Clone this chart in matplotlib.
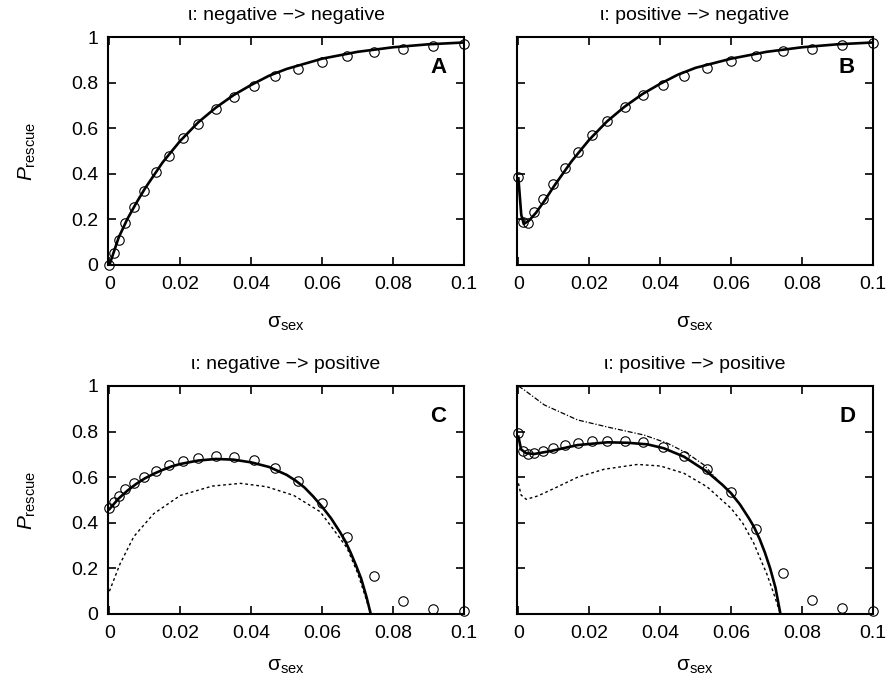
import matplotlib
matplotlib.use("Agg")
import matplotlib.pyplot as plt

# ---- data ----
# circles (simulation)
x_sim = [0, 0.0012, 0.0026, 0.0045, 0.007, 0.0097, 0.013, 0.0167, 0.0207, 0.025, 0.03,
         0.035, 0.0407, 0.0468, 0.0531, 0.06, 0.067, 0.0746, 0.0827, 0.0912, 0.1]
sim_A = [0.0, 0.051, 0.11, 0.183, 0.253, 0.326, 0.407, 0.48, 0.556, 0.618, 0.684,
         0.735, 0.786, 0.827, 0.859, 0.89, 0.915, 0.933, 0.949, 0.962, 0.971]
sim_B = [0.385, 0.19, 0.186, 0.231, 0.29, 0.354, 0.425, 0.495, 0.571, 0.63, 0.693,
         0.744, 0.79, 0.827, 0.864, 0.893, 0.918, 0.937, 0.949, 0.963, 0.974]
sim_C = [0.466, 0.493, 0.518, 0.547, 0.573, 0.602, 0.629, 0.654, 0.673, 0.683, 0.693,
         0.687, 0.675, 0.639, 0.583, 0.488, 0.339, 0.168, 0.058, 0.022, 0.013]
sim_D = [0.795, 0.716, 0.702, 0.705, 0.716, 0.727, 0.741, 0.749, 0.759, 0.76, 0.759,
         0.756, 0.731, 0.693, 0.635, 0.534, 0.371, 0.181, 0.061, 0.025, 0.015]

# model curves
xA = [0, 0.0026, 0.005, 0.0075, 0.01, 0.015, 0.02, 0.025, 0.03, 0.035, 0.04, 0.045,
      0.05, 0.06, 0.07, 0.08, 0.09, 0.1]
lineA = [0.0, 0.12, 0.2, 0.27, 0.335, 0.45, 0.545, 0.625, 0.69, 0.745, 0.79, 0.83,
         0.86, 0.905, 0.935, 0.955, 0.968, 0.976]
xB = [0, 0.0008, 0.0015, 0.003, 0.005, 0.0075, 0.01, 0.015, 0.02, 0.025, 0.03, 0.035,
      0.04, 0.045, 0.05, 0.06, 0.07, 0.08, 0.09, 0.1]
lineB = [0.38, 0.22, 0.18, 0.195, 0.23, 0.285, 0.345, 0.455, 0.55, 0.63, 0.695, 0.75,
         0.795, 0.835, 0.865, 0.905, 0.935, 0.955, 0.968, 0.976]
xC = [0, 0.0025, 0.005, 0.0075, 0.01, 0.0125, 0.015, 0.0175, 0.02, 0.025, 0.03, 0.035,
      0.04, 0.045, 0.05, 0.0525, 0.055, 0.0575, 0.06, 0.0625, 0.065, 0.0665, 0.068,
      0.0695, 0.071, 0.0725, 0.0737]
lineC = [0.46, 0.505, 0.54, 0.57, 0.595, 0.615, 0.632, 0.647, 0.658, 0.673, 0.68, 0.677,
         0.665, 0.645, 0.61, 0.585, 0.555, 0.515, 0.47, 0.42, 0.36, 0.32, 0.27,
         0.215, 0.155, 0.075, 0.0]
xCd = [0, 0.003, 0.0069, 0.0125, 0.02, 0.029, 0.037, 0.0444, 0.052, 0.0594, 0.063,
       0.067, 0.070, 0.072, 0.0737]
dotC = [0.1, 0.22, 0.34, 0.44, 0.52, 0.561, 0.573, 0.558, 0.52, 0.449, 0.375,
        0.29, 0.18, 0.085, 0.0]
xD = [0, 0.00075, 0.0022, 0.0045, 0.0092, 0.0167, 0.0251, 0.0308, 0.0364, 0.041,
      0.0467, 0.0532, 0.055, 0.0575, 0.06, 0.0625, 0.065, 0.0664, 0.068, 0.0695,
      0.071, 0.0725, 0.0739]
lineD = [0.778, 0.722, 0.705, 0.702, 0.715, 0.741, 0.753, 0.751, 0.744, 0.727,
         0.69, 0.624, 0.6, 0.567, 0.529, 0.48, 0.42, 0.383, 0.33, 0.27,
         0.2, 0.115, 0.0]
xDdd = [0, 0.0017, 0.0073, 0.0167, 0.026, 0.0354, 0.042, 0.0476, 0.0523, 0.056]
dashdotD = [1.0, 0.982, 0.917, 0.851, 0.817, 0.785, 0.749, 0.705, 0.654, 0.59]
xDd = [0, 0.00075, 0.0022, 0.0055, 0.0101, 0.0167, 0.0242, 0.0336, 0.0401, 0.0467,
       0.0532, 0.06, 0.0632, 0.0664, 0.068, 0.07, 0.072, 0.0739]
dotD = [0.573, 0.522, 0.503, 0.518, 0.551, 0.6, 0.635, 0.656, 0.649, 0.617,
        0.558, 0.463, 0.4, 0.31, 0.25, 0.178, 0.09, 0.0]

titles = ["ι: negative −> negative", "ι: positive −> negative",
          "ι: negative −> positive", "ι: positive −> positive"]
letters = ["A", "B", "C", "D"]
xticks = [0, 0.02, 0.04, 0.06, 0.08, 0.1]
xticklabels = ["0", "0.02", "0.04", "0.06", "0.08", "0.1"]
yticks = [0, 0.2, 0.4, 0.6, 0.8, 1]
yticklabels = ["0", "0.2", "0.4", "0.6", "0.8", "1"]

plt.rcParams["font.family"] = ["Liberation Sans", "DejaVu Sans"]
plt.rcParams["mathtext.fontset"] = "custom"
plt.rcParams["mathtext.rm"] = "Liberation Sans"
plt.rcParams["mathtext.it"] = "Liberation Sans:italic"

fig = plt.figure(figsize=(8.91, 6.83), dpi=100)
W, H = 891.0, 683.0
boxes = [(108, 37), (517, 37), (108, 386), (517, 386)]  # left, top in px
aw, ah = 356, 228

sims = [sim_A, sim_B, sim_C, sim_D]
for i, (l, t) in enumerate(boxes):
    ax = fig.add_axes([l / W, 1 - (t + ah) / H, aw / W, ah / H])
    ax.set_xlim(-0.0004, 0.1)
    ax.set_ylim(0, 1)

    if i == 0:
        ax.plot(xA, lineA, color="black", lw=1.9)
    elif i == 1:
        ax.plot(xB, lineB, color="black", lw=1.9)
    elif i == 2:
        ax.plot(xCd, dotC, color="black", lw=1.0, ls=(0, (2, 2)))
        ax.plot(xC, lineC, color="black", lw=1.9)
    else:
        ax.plot(xDdd, dashdotD, color="black", lw=0.9, ls=(0, (4, 1.5, 1, 1.5)))
        ax.plot(xDd, dotD, color="black", lw=1.0, ls=(0, (2, 2)))
        ax.plot(xD, lineD, color="black", lw=1.9)

    ax.plot(x_sim, sims[i], ls="none", marker="o", ms=6.8, mfc="none",
            mec="black", mew=0.8, clip_on=False)

    ax.set_xticks(xticks)
    ax.set_xticklabels(xticklabels)
    ax.set_yticks(yticks)
    if i % 2 == 0:
        ax.set_yticklabels(yticklabels)
        ax.set_ylabel(r"$P_\mathrm{rescue}$", fontsize=15)
        ax.yaxis.set_label_coords(-0.198, 0.5)
    else:
        ax.set_yticklabels([])
    ax.tick_params(direction="in", length=5.5, width=1.2, top=True, right=True,
                   labelsize=14)
    ax.tick_params(axis="x", pad=8)
    ax.tick_params(axis="y", pad=7)
    for sp in ax.spines.values():
        sp.set_linewidth(1.5)

    ax.set_xlabel(r"σ$_\mathrm{sex}$", fontsize=15)
    ax.xaxis.set_label_coords(0.5, -0.215 if i < 2 else -0.19)
    ax.text(0.5, 1.096, titles[i], transform=ax.transAxes, ha="center",
            va="center", fontsize=14)
    ax.text(0.927, 0.868, letters[i], transform=ax.transAxes, ha="center",
            va="center", fontsize=16, fontweight="bold")

fig.savefig("out.png", dpi=100)
